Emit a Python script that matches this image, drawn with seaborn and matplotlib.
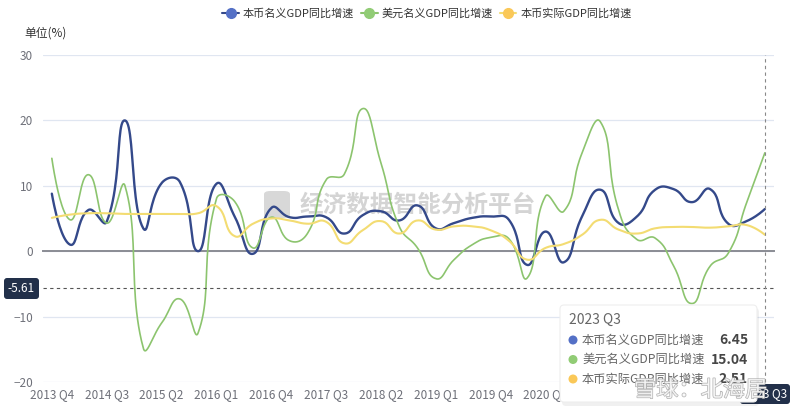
import numpy as np
import seaborn as sns
import matplotlib.pyplot as plt
from matplotlib.lines import Line2D
from matplotlib.patches import FancyBboxPatch, Circle
import matplotlib.patheffects as pe

# 季度 2013 Q4 ~ 2023 Q3
quarters = ['2013 Q4'] + [f'{y} Q{q}' for y in range(2014, 2023) for q in range(1, 5)] + ['2023 Q1', '2023 Q2', '2023 Q3']

local_nominal = [8.8, 1.0, 6.3, 4.5, 20.0, 3.5, 10.4, 10.6, 0.0, 10.3,
                 5.3, -0.4, 6.6, 5.2, 5.3, 5.2, 2.7, 5.5, 6.1, 4.7,
                 7.0, 3.5, 4.3, 5.1, 5.3, 4.8, -2.1, 3.0, -1.7, 5.3,
                 9.4, 4.3, 5.3, 9.4, 9.5, 7.5, 9.5, 4.2, 4.6, 6.45]
usd_nominal = [14.2, 4.8, 11.7, 4.3, 10.0, -14.8, -11.0, -7.3, -12.5, 8.0,
               7.6, 0.5, 5.2, 1.6, 2.8, 10.9, 11.8, 21.8, 13.5, 3.8,
               0.5, -4.2, -1.3, 1.0, 2.1, 1.9, -4.1, 8.4, 6.1, 15.0,
               19.8, 6.3, 1.8, 2.0, -2.2, -8.0, -2.3, -0.3, 7.4, 15.04]
local_real = [5.1, 5.6, 5.8, 5.8, 5.7, 5.7, 5.7, 5.7, 5.8, 6.9,
              2.3, 4.2, 5.0, 4.7, 4.2, 4.5, 1.2, 3.2, 4.6, 2.7,
              4.7, 3.3, 3.8, 3.8, 3.2, 1.6, -1.3, 0.5, 1.1, 2.5,
              4.8, 3.3, 2.7, 3.5, 3.7, 3.7, 3.6, 3.8, 4.0, 2.51]

series_names = ['本币名义GDP同比增速', '美元名义GDP同比增速', '本币实际GDP同比增速']
line_colors = ['#34498a', '#8cc46e', '#f3dc72']
dot_colors = ['#5470c6', '#91cc75', '#fac858']
line_widths = [1.7, 1.2, 1.5]

pointer_y = -5.61
pointer_idx = len(quarters) - 1
label_idx = list(range(0, len(quarters), 3))

W, H = 800, 413
L, R, T, B = 42.7, 774.0, 55.0, 382.0

sns.set_style('white')
plt.rcParams['font.family'] = ['Noto Sans CJK SC', 'DejaVu Sans']
axis_grey = '#6E7079'


def smooth_curve(xs, ys, sx, sy, smooth=0.5, n=24):
    # echarts 风格的平滑曲线 (smooth: true)
    px = np.asarray(xs, float) * sx
    py = np.asarray(ys, float) * sy
    m = len(px)
    out_x, out_y = [px[0]], [py[0]]
    c0x, c0y = px[0], py[0]
    t = np.linspace(0, 1, n + 1)[1:]
    for k in range(1, m):
        x, y = px[k], py[k]
        if k == m - 1:
            c1x, c1y = x, y
            vx = vy = 0.0
            ratio = 0.5
        else:
            vx = px[k + 1] - px[k - 1]
            vy = py[k + 1] - py[k - 1]
            l0 = np.hypot(x - px[k - 1], y - py[k - 1])
            l1 = np.hypot(px[k + 1] - x, py[k + 1] - y)
            ratio = l1 / (l0 + l1)
            c1x = x - vx * smooth * (1 - ratio)
            c1y = y - vy * smooth * (1 - ratio)
        x0, y0 = px[k - 1], py[k - 1]
        bx = (1 - t) ** 3 * x0 + 3 * (1 - t) ** 2 * t * c0x + 3 * (1 - t) * t ** 2 * c1x + t ** 3 * x
        by = (1 - t) ** 3 * y0 + 3 * (1 - t) ** 2 * t * c0y + 3 * (1 - t) * t ** 2 * c1y + t ** 3 * y
        out_x.extend(bx)
        out_y.extend(by)
        c0x = x + vx * smooth * ratio
        c0y = y + vy * smooth * ratio
    return np.array(out_x) / sx, np.array(out_y) / sy


fig = plt.figure(figsize=(W / 100, H / 100), dpi=100)
fig.patch.set_facecolor('white')
ax = fig.add_axes([L / W, 1 - B / H, (R - L) / W, (B - T) / H])
ax.patch.set_alpha(0)
ax.set_xlim(-0.5, len(quarters) - 0.5)
ax.set_ylim(-20, 30)

# 网格与坐标轴
ax.set_yticks([-20, -10, 0, 10, 20, 30])
ax.yaxis.grid(True, color='#E0E6F1', lw=0.9)
ax.xaxis.grid(False)
for s in ['left', 'right', 'top']:
    ax.spines[s].set_visible(False)
ax.spines['bottom'].set_position(('data', 0))
ax.spines['bottom'].set_color('#8a8c94')
ax.spines['bottom'].set_linewidth(1.4)
ax.set_xticks(list(np.arange(-0.5, len(quarters), 3)) + [len(quarters) - 0.5])
ax.set_xticklabels([])
ax.tick_params(axis='x', direction='out', length=4, width=1, color='#8a8c94')
ax.tick_params(axis='y', length=0, pad=7, labelcolor=axis_grey, labelsize=8.5)

sec = ax.secondary_xaxis('bottom')
sec.set_xticks(label_idx, labels=[quarters[i] for i in label_idx])
sec.tick_params(length=0, pad=4, labelcolor=axis_grey, labelsize=8.5)
sec.spines['bottom'].set_visible(False)

sx = (R - L) / len(quarters)
sy = (B - T) / 50.0
xs = np.arange(len(quarters))
for vals, c, lw in zip([local_nominal, usd_nominal, local_real], line_colors, line_widths):
    cx, cy = smooth_curve(xs, vals, sx, sy)
    sns.lineplot(x=cx, y=cy, ax=ax, color=c, lw=lw, sort=False, estimator=None, zorder=3)

# 十字准星
ax.axhline(pointer_y, color='#555555', lw=0.8, ls=(0, (3, 3)), zorder=4)
ax.axvline(pointer_idx, color='#888888', lw=0.8, ls=(0, (3, 3)), zorder=4, clip_on=False)

# 水印
ax.text(300 / W, 1 - 205 / H, '经济数据智能分析平台', transform=fig.transFigure, fontsize=17,
        fontweight='bold', color='#d4d4d4', va='center', ha='left', zorder=1)
ax.add_artist(FancyBboxPatch((264 / W, 1 - 218 / H), 26 / W, 27 / H,
                             boxstyle='round,pad=0,rounding_size=0.008', transform=fig.transFigure,
                             fc='#d8d8d8', ec='none', zorder=1))

# 图例
handles = [Line2D([0], [0], color=lc, lw=1.5, marker='o', markersize=7,
                  markerfacecolor=dc, markeredgecolor=dc)
           for lc, dc in zip(line_colors, dot_colors)]
fig.legend(handles, series_names, loc='center', bbox_to_anchor=(427 / W, 1 - 14 / H), ncol=3,
           frameon=False, fontsize=8, handlelength=1.5, handletextpad=0.35, columnspacing=0.6,
           labelcolor='#333333')

fig.text(24 / W, 1 - 33 / H, '单位(%)', fontsize=8.5, color='#333333', va='center', ha='left')

# 叠加层 (像素坐标)
ov = fig.add_axes([0, 0, 1, 1], zorder=10)
ov.set_xlim(0, W)
ov.set_ylim(H, 0)
ov.axis('off')
ov.patch.set_alpha(0)

ov.add_patch(FancyBboxPatch((4, 278), 35, 21, boxstyle='round,pad=0,rounding_size=3',
                            fc='#22304a', ec='none'))
ov.text(21.5, 288.5, f'{pointer_y:.2f}', color='white', fontsize=8.5, ha='center', va='center')

ov.add_patch(FancyBboxPatch((740, 384), 50, 20, boxstyle='round,pad=0,rounding_size=3',
                            fc='#22304a', ec='none'))
ov.text(765, 394, quarters[pointer_idx], color='white', fontsize=8.5, ha='center', va='center')

# 提示框
ov.add_patch(FancyBboxPatch((562, 308), 197, 98, boxstyle='round,pad=0,rounding_size=4',
                            fc='#000000', ec='none', alpha=0.06))
ov.add_patch(FancyBboxPatch((560, 305), 197, 97, boxstyle='round,pad=0,rounding_size=4',
                            fc='white', ec='#eeeeee', lw=0.8))
ov.text(569, 320, quarters[pointer_idx], fontsize=10, color='#666666', ha='left', va='center')
row_y = [340, 359.5, 379]
values = [local_nominal[-1], usd_nominal[-1], local_real[-1]]
for yy, name, dc, v in zip(row_y, series_names, dot_colors, values):
    ov.add_patch(Circle((573, yy), 4.5, fc=dc, ec='none'))
    ov.text(582, yy, name, fontsize=8.8, color='#666666', ha='left', va='center')
    ov.text(748, yy, f'{v:.2f}', fontsize=10, color='#464646', ha='right', va='center',
            fontweight='bold')

ov.text(634, 390, '雪球：北海居', fontsize=16, color='white', ha='left', va='center', alpha=0.8,
        path_effects=[pe.withStroke(linewidth=1.0, foreground='#a0a0a0')])

fig.savefig('out.png', dpi=100, facecolor='white')
